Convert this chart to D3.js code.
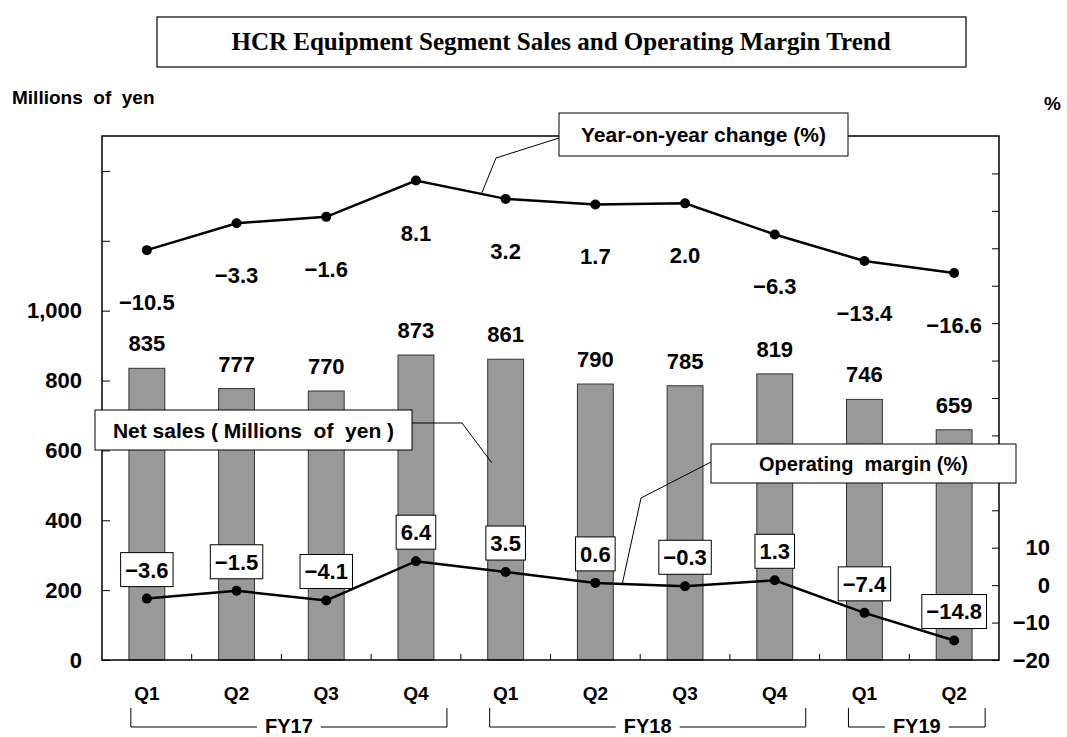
<!DOCTYPE html>
<html>
<head>
<meta charset="utf-8">
<script src="https://cdn.jsdelivr.net/npm/d3@7"></script>
<style>
  body { margin: 0; background: #fff; }
  svg text { font-family: "Liberation Sans", Arial, sans-serif; font-weight: bold; fill: #000; }
</style>
</head>
<body>
<div id="chart"></div>
<script>
// ---------------------
//      DATA
// ---------------------
const quarters = ["Q1", "Q2", "Q3", "Q4", "Q1", "Q2", "Q3", "Q4", "Q1", "Q2"];
const netSales = [835, 777, 770, 873, 861, 790, 785, 819, 746, 659];
const yoyChange = [-10.5, -3.3, -1.6, 8.1, 3.2, 1.7, 2.0, -6.3, -13.4, -16.6];
const opMargin = [-3.6, -1.5, -4.1, 6.4, 3.5, 0.6, -0.3, 1.3, -7.4, -14.8];
const fiscalYears = [
    { label: "FY17", first: 0, last: 3 },
    { label: "FY18", first: 4, last: 7 },
    { label: "FY19", first: 8, last: 9 }
];
const leftTicks = [0, 200, 400, 600, 800, 1000, 1200, 1400];
const rightTicks = d3.range(-20, 120, 10);

const width = 1067;
const height = 737;
const plot = { left: 102, right: 999, top: 136, bottom: 660 };

const svg = d3.select("#chart").append("svg")
    .attr("width", width)
    .attr("height", height);

// ---------------------
//      SCALES
// ---------------------
const idx = quarters.map((d, i) => i);
const x = d3.scaleBand()
    .domain(idx)
    .range([plot.left, plot.right])
    .paddingInner(0.6)
    .paddingOuter(0.3);
const cx = (i) => x(i) + x.bandwidth() / 2;

const yLeft = d3.scaleLinear().domain([0, 1500]).range([plot.bottom, plot.top]);
const yRight = d3.scaleLinear().domain([-20, 120]).range([plot.bottom, plot.top]);
// year-on-year line is drawn on the right axis shifted by +100
const yYoy = d3.scaleLinear().domain([-120, 20]).range([plot.bottom, plot.top]);

const fmt1 = d3.format(".1f");

// ---------------------
//      TITLE
// ---------------------
svg.append("rect")
    .attr("x", 157).attr("y", 17).attr("width", 809).attr("height", 50)
    .attr("fill", "#fff").attr("stroke", "#000").attr("stroke-width", 1.2);
svg.append("text")
    .attr("x", 561).attr("y", 50)
    .attr("text-anchor", "middle")
    .style("font-family", "'Liberation Serif', 'Times New Roman', serif")
    .style("font-size", "25px")
    .text("HCR Equipment Segment Sales and Operating Margin Trend");

svg.append("text")
    .attr("x", 12).attr("y", 104)
    .style("font-size", "19px")
    .style("white-space", "pre")
    .text("Millions  of  yen");
svg.append("text")
    .attr("x", 1044).attr("y", 110)
    .style("font-size", "19px")
    .text("%");

// ---------------------
//      BARS
// ---------------------
svg.append("g")
    .selectAll("rect")
    .data(netSales)
    .join("rect")
    .attr("x", (d, i) => x(i))
    .attr("y", (d) => yLeft(d))
    .attr("width", x.bandwidth())
    .attr("height", (d) => yLeft(0) - yLeft(d))
    .attr("fill", "#999999")
    .attr("stroke", "#333")
    .attr("stroke-width", 1);

svg.append("g")
    .selectAll("text")
    .data(netSales)
    .join("text")
    .attr("x", (d, i) => cx(i))
    .attr("y", (d) => yLeft(d) - 17)
    .attr("text-anchor", "middle")
    .style("font-size", "22px")
    .text((d) => d);

// ---------------------
//      AXES
// ---------------------
svg.append("rect")
    .attr("x", plot.left).attr("y", plot.top)
    .attr("width", plot.right - plot.left).attr("height", plot.bottom - plot.top)
    .attr("fill", "none").attr("stroke", "#000").attr("stroke-width", 1.5);

const leftAxis = svg.append("g")
    .attr("transform", `translate(${plot.left},0)`)
    .call(d3.axisLeft(yLeft)
        .tickValues(leftTicks)
        .tickSizeInner(-8).tickSizeOuter(0).tickPadding(20)
        .tickFormat((d) => d <= 1000 ? d3.format(",")(d) : ""));

const rightAxis = svg.append("g")
    .attr("transform", `translate(${plot.right},0)`)
    .call(d3.axisRight(yRight)
        .tickValues(rightTicks)
        .tickSizeInner(-7).tickSizeOuter(0).tickPadding(51)
        .tickFormat((d) => d <= 10 ? fmt1(d).replace(".0", "") : ""));
rightAxis.selectAll("text").attr("text-anchor", "end");

[leftAxis, rightAxis].forEach((g) => {
    g.select(".domain").remove();
    g.selectAll("line").attr("stroke", "#000").attr("stroke-width", 1);
    g.selectAll("text")
        .style("font-family", "'Liberation Sans', Arial, sans-serif")
        .style("font-weight", "bold")
        .style("font-size", "22px")
        .attr("fill", "#000");
});

// small ticks between categories on the bottom edge
svg.append("g")
    .selectAll("line")
    .data(idx.slice(1))
    .join("line")
    .attr("x1", (i) => x(i) - x.step() * x.paddingInner() / 2)
    .attr("x2", (i) => x(i) - x.step() * x.paddingInner() / 2)
    .attr("y1", plot.bottom)
    .attr("y2", plot.bottom - 6)
    .attr("stroke", "#000");

// category labels
svg.append("g")
    .selectAll("text")
    .data(quarters)
    .join("text")
    .attr("x", (d, i) => cx(i))
    .attr("y", 700)
    .attr("text-anchor", "middle")
    .style("font-size", "19px")
    .text((d) => d);

// fiscal year brackets
const fy = svg.append("g");
fiscalYears.forEach((f) => {
    const x0 = cx(f.first) - 16;
    const x1 = cx(f.last) + 31;
    const mid = (x0 + x1) / 2;
    const by = 727;
    const label = fy.append("text")
        .attr("x", mid).attr("y", by + 6)
        .attr("text-anchor", "middle")
        .style("font-size", "20px")
        .text(f.label);
    const half = label.node().getComputedTextLength() / 2 + 8;
    fy.append("path")
        .attr("d", `M${x0},708V${by}H${mid - half}`)
        .attr("fill", "none").attr("stroke", "#000").attr("stroke-width", 1);
    fy.append("path")
        .attr("d", `M${mid + half},${by}H${x1}V708`)
        .attr("fill", "none").attr("stroke", "#000").attr("stroke-width", 1);
});

// ---------------------
//      LINES
// ---------------------
function drawLine(values, scale) {
    const line = d3.line().x((d, i) => cx(i)).y((d) => scale(d));
    svg.append("path")
        .datum(values)
        .attr("d", line)
        .attr("fill", "none")
        .attr("stroke", "#000")
        .attr("stroke-width", 2.5);
    svg.append("g")
        .selectAll("circle")
        .data(values)
        .join("circle")
        .attr("cx", (d, i) => cx(i))
        .attr("cy", (d) => scale(d))
        .attr("r", 5)
        .attr("fill", "#000");
}

drawLine(yoyChange, yYoy);
drawLine(opMargin, yRight);

// yoy labels below points
svg.append("g")
    .selectAll("text")
    .data(yoyChange)
    .join("text")
    .attr("x", (d, i) => cx(i))
    .attr("y", (d) => yYoy(d) + 60)
    .attr("text-anchor", "middle")
    .style("font-size", "22px")
    .text((d) => fmt1(d));

// operating margin labels in boxes
const omLabels = svg.append("g")
    .selectAll("g")
    .data(opMargin)
    .join("g")
    .attr("transform", (d, i) => `translate(${cx(i)},${yRight(d) - 29})`);
omLabels.append("rect");
omLabels.append("text")
    .attr("text-anchor", "middle")
    .attr("dy", "0.36em")
    .style("font-size", "22px")
    .text((d) => fmt1(d));
omLabels.each(function () {
    const g = d3.select(this);
    const w = g.select("text").node().getComputedTextLength() + 9;
    g.select("rect")
        .attr("x", -w / 2).attr("y", -17)
        .attr("width", w).attr("height", 34)
        .attr("fill", "#fff").attr("stroke", "#000").attr("stroke-width", 1);
});

// ---------------------
//    CALLOUTS
// ---------------------
function callout(box, text, size, pts) {
    svg.append("path")
        .attr("d", d3.line()(pts))
        .attr("fill", "none").attr("stroke", "#000").attr("stroke-width", 1);
    svg.append("rect")
        .attr("x", box[0]).attr("y", box[1])
        .attr("width", box[2]).attr("height", box[3])
        .attr("fill", "#fff").attr("stroke", "#000").attr("stroke-width", 1);
    svg.append("text")
        .attr("x", box[0] + box[2] / 2)
        .attr("y", box[1] + box[3] / 2)
        .attr("dy", "0.36em")
        .attr("text-anchor", "middle")
        .style("font-size", size + "px")
        .style("white-space", "pre")
        .text(text);
}

const lerp = (a, b, t) => a + (b - a) * t;

callout([559, 113, 289, 43], "Year-on-year change (%)", 21, [
    [559, 138], [496, 158],
    [lerp(cx(3), cx(4), 0.73), lerp(yYoy(yoyChange[3]), yYoy(yoyChange[4]), 0.73)]
]);

callout([95, 410, 317, 40], "Net sales ( Millions  of  yen )", 21, [
    [412, 423], [462, 423], [cx(4) - 14, yLeft(565)]
]);

callout([711, 444, 305, 39], "Operating  margin (%)", 20, [
    [711, 462], [641, 498],
    [lerp(cx(5), cx(6), 0.3), lerp(yRight(opMargin[5]), yRight(opMargin[6]), 0.3)]
]);
</script>
</body>
</html>
